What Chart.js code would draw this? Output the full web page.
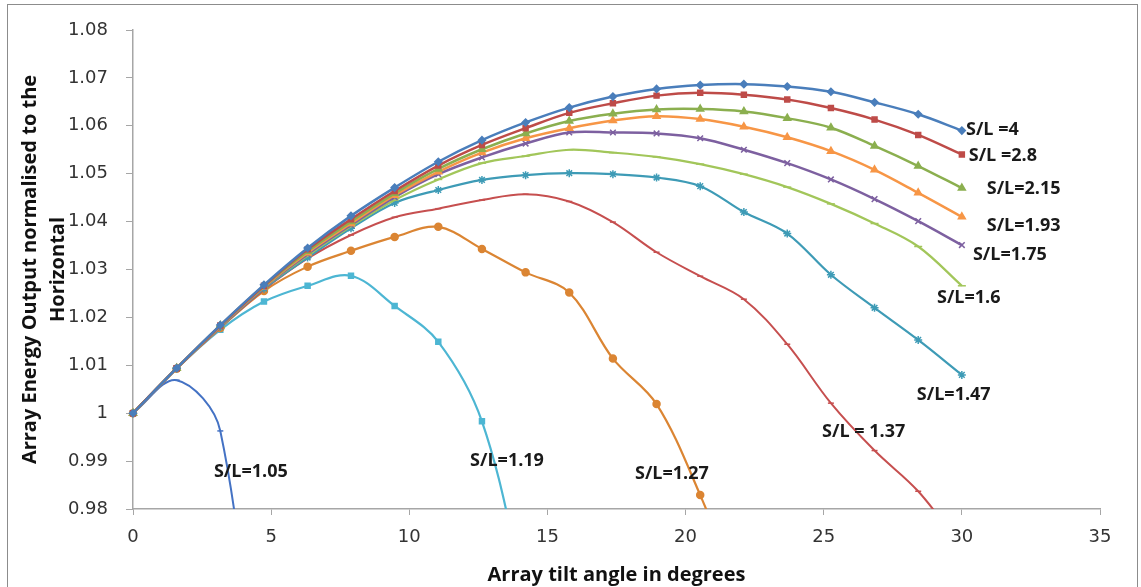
<!DOCTYPE html>
<html>
<head>
<meta charset="utf-8">
<script src="https://cdn.jsdelivr.net/npm/chart.js@4"></script>
<style>
  html, body { margin: 0; padding: 0; background: #fff; }
  #wrap { position: relative; width: 1141px; height: 587px; }
</style>
</head>
<body>
<div id="wrap"><canvas id="chart" width="1141" height="587"></canvas></div>
<script>
// ── Data ─────────────────────────────────────────────────────────────────────
const TILT = [0, 1.58, 3.16, 4.74, 6.32, 7.89, 9.47, 11.05, 12.63, 14.21,
  15.79, 17.37, 18.95, 20.53, 22.11, 23.68, 25.26, 26.84, 28.42, 30];

const SL_4    = [1.0000, 1.0094, 1.0184, 1.0268, 1.0345, 1.0412, 1.0471, 1.0525, 1.0570, 1.0607, 1.0638, 1.0661, 1.0677, 1.0685, 1.0687, 1.0682, 1.0671, 1.0649, 1.0624, 1.0590];
const SL_2_8  = [1.0000, 1.0094, 1.0183, 1.0266, 1.0342, 1.0405, 1.0464, 1.0517, 1.0560, 1.0595, 1.0627, 1.0647, 1.0663, 1.0669, 1.0665, 1.0655, 1.0637, 1.0613, 1.0581, 1.0540];
const SL_2_15 = [1.0000, 1.0094, 1.0183, 1.0265, 1.0338, 1.0400, 1.0459, 1.0510, 1.0551, 1.0584, 1.0610, 1.0625, 1.0634, 1.0635, 1.0630, 1.0616, 1.0596, 1.0558, 1.0516, 1.0470];
const SL_1_93 = [1.0000, 1.0094, 1.0182, 1.0264, 1.0335, 1.0396, 1.0455, 1.0504, 1.0544, 1.0574, 1.0595, 1.0611, 1.0620, 1.0614, 1.0598, 1.0576, 1.0547, 1.0508, 1.0460, 1.0410];
const SL_1_75 = [1.0000, 1.0094, 1.0182, 1.0263, 1.0332, 1.0393, 1.0451, 1.0499, 1.0534, 1.0563, 1.0586, 1.0586, 1.0584, 1.0574, 1.0550, 1.0522, 1.0488, 1.0447, 1.0401, 1.0351];
const SL_1_6  = [1.0000, 1.0094, 1.0181, 1.0262, 1.0329, 1.0390, 1.0445, 1.0488, 1.0522, 1.0537, 1.0550, 1.0544, 1.0535, 1.0520, 1.0499, 1.0472, 1.0437, 1.0396, 1.0348, 1.0266];
const SL_1_47 = [1.0000, 1.0094, 1.0180, 1.0260, 1.0325, 1.0386, 1.0439, 1.0466, 1.0487, 1.0497, 1.0501, 1.0499, 1.0492, 1.0474, 1.0420, 1.0375, 1.0289, 1.0220, 1.0153, 1.0080];
const SL_1_37 = [1.0000, 1.0093, 1.0179, 1.0258, 1.0323, 1.0372, 1.0409, 1.0427, 1.0445, 1.0457, 1.0442, 1.0399, 1.0336, 1.0286, 1.0238, 1.0144, 1.0021, 0.9922, 0.9837, 0.9720];
const SL_1_27 = [1.0000, 1.0093, 1.0178, 1.0255, 1.0306, 1.0339, 1.0368, 1.0389, 1.0343, 1.0294, 1.0252, 1.0114, 1.0019, 0.9829, 0.9600];
const SL_1_19 = [1.0000, 1.0093, 1.0174, 1.0233, 1.0266, 1.0287, 1.0224, 1.0149, 0.9983, 0.9620];
const SL_1_05 = [1.0000, 1.0069, 0.9963, 0.9200];

const X_TICKS = [0, 5, 10, 15, 20, 25, 30, 35];
const Y_MIN = 0.98, Y_MAX = 1.08, Y_STEP = 0.01;

// label text + anchor (tilt, value) for the curve annotations
const LABELS = [
  { text: "S/L =4",     x: 30.15, y: 1.0591 },
  { text: "S/L =2.8",   x: 30.25, y: 1.0537 },
  { text: "S/L=2.15",   x: 30.9,  y: 1.0468 },
  { text: "S/L=1.93",   x: 30.9,  y: 1.0391 },
  { text: "S/L=1.75",   x: 30.4,  y: 1.0330 },
  { text: "S/L=1.6",    x: 29.1,  y: 1.0240 },
  { text: "S/L=1.47",   x: 28.37, y: 1.0038 },
  { text: "S/L = 1.37", x: 24.94, y: 0.9961 },
  { text: "S/L=1.27",   x: 18.17, y: 0.9873 },
  { text: "S/L=1.19",   x: 12.2,  y: 0.9900 },
  { text: "S/L=1.05",   x: 2.93,  y: 0.9877 },
];

// ── Series styling ───────────────────────────────────────────────────────────
const SERIES = [
  { name: "S/L=4",    data: SL_4,    color: "#4A7EBB", marker: "rectRot",  r: 3.5, w: 2.5 },
  { name: "S/L=2.8",  data: SL_2_8,  color: "#BE4B48", marker: "rect",     r: 3.5, w: 2.5 },
  { name: "S/L=2.15", data: SL_2_15, color: "#8BAF4F", marker: "triangle", r: 4,   w: 2.5 },
  { name: "S/L=1.93", data: SL_1_93, color: "#F79646", marker: "triangle", r: 4,   w: 2.5 },
  { name: "S/L=1.75", data: SL_1_75, color: "#7D60A0", marker: "crossRot", r: 4,   w: 2.5 },
  { name: "S/L=1.6",  data: SL_1_6,  color: "#A2C65A", marker: "line",     r: 4,   w: 2.2 },
  { name: "S/L=1.47", data: SL_1_47, color: "#3E9BB6", marker: "star",     r: 4,   w: 2.2 },
  { name: "S/L=1.37", data: SL_1_37, color: "#C64F4F", marker: "line",     r: 3,   w: 2 },
  { name: "S/L=1.27", data: SL_1_27, color: "#DB8533", marker: "circle",   r: 3.5, w: 2.2 },
  { name: "S/L=1.19", data: SL_1_19, color: "#4DB6D3", marker: "rect",     r: 3.5, w: 2.2 },
  { name: "S/L=1.05", data: SL_1_05, color: "#4472C4", marker: "line",     r: 3,   w: 2 },
];

const datasets = SERIES.map((s) => ({
  label: s.name,
  data: s.data.map((v, i) => ({ x: TILT[i], y: v })),
  borderColor: s.color,
  backgroundColor: s.color,
  borderWidth: s.w,
  pointStyle: s.marker,
  pointRadius: s.r,
  pointBorderWidth: 1.5,
  pointBorderColor: s.color,
  pointBackgroundColor: s.color,
  tension: 0.35,
  clip: { left: 10, top: 10, right: 10, bottom: 0 },
}));

// ── Plugins ──────────────────────────────────────────────────────────────────
const curveLabels = {
  id: "curveLabels",
  afterDatasetsDraw(chart) {
    const { ctx, scales: { x, y } } = chart;
    ctx.save();
    ctx.font = "bold 18px 'Open Sans'";
    ctx.fillStyle = "#1a1a1a";
    ctx.textAlign = "left";
    ctx.textBaseline = "middle";
    LABELS.forEach((l) => ctx.fillText(l.text, x.getPixelForValue(l.x), y.getPixelForValue(l.y)));
    ctx.restore();
  },
};

const frame = {
  id: "frame",
  afterDraw(chart) {
    const { ctx } = chart;
    ctx.save();
    ctx.strokeStyle = "#8c8c8c";
    ctx.lineWidth = 1;
    ctx.strokeRect(7.5, 4.5, 1130, 600);
    ctx.restore();
  },
};

// ── Chart ────────────────────────────────────────────────────────────────────
new Chart(document.getElementById("chart").getContext("2d"), {
  type: "line",
  data: { datasets },
  plugins: [curveLabels, frame],
  options: {
    responsive: false,
    animation: false,
    layout: { padding: { left: 0, top: 30, right: 41, bottom: 0 } },
    plugins: { legend: { display: false }, tooltip: { enabled: false } },
    scales: {
      x: {
        type: "linear",
        min: 0,
        max: 35,
        afterBuildTicks: (s) => { s.ticks = X_TICKS.map((v) => ({ value: v })); },
        afterFit: (s) => { s.height = 78; },
        ticks: { color: "#333", font: { family: "DejaVu Sans", size: 18 }, padding: 12, maxRotation: 0 },
        grid: { drawOnChartArea: false, drawTicks: true, tickLength: 6, color: "#A6A6A6" },
        border: { display: true, color: "#A6A6A6", width: 1.5 },
        title: {
          display: true,
          text: "Array tilt angle in degrees",
          color: "#111",
          font: { family: "Open Sans", size: 20, weight: "bold", lineHeight: 1.2 },
          padding: { top: 0, bottom: 0 },
        },
      },
      y: {
        type: "linear",
        min: Y_MIN,
        max: Y_MAX,
        ticks: {
          stepSize: Y_STEP,
          color: "#333",
          font: { family: "DejaVu Sans", size: 18 },
          padding: 18,
          callback: (v) => String(+v.toFixed(2)),
        },
        afterFit: (s) => { s.width = 133; },
        grid: { drawOnChartArea: false, drawTicks: true, tickLength: 7, color: "#A6A6A6" },
        border: { display: true, color: "#A6A6A6", width: 1.5 },
        title: {
          display: true,
          text: ["Array Energy Output normalised to the", "Horizontal"],
          color: "#111",
          font: { family: "Open Sans", size: 20, weight: "bold", lineHeight: 1.4 },
          padding: { top: 16, bottom: 0 },
        },
      },
    },
  },
});
</script>
</body>
</html>
